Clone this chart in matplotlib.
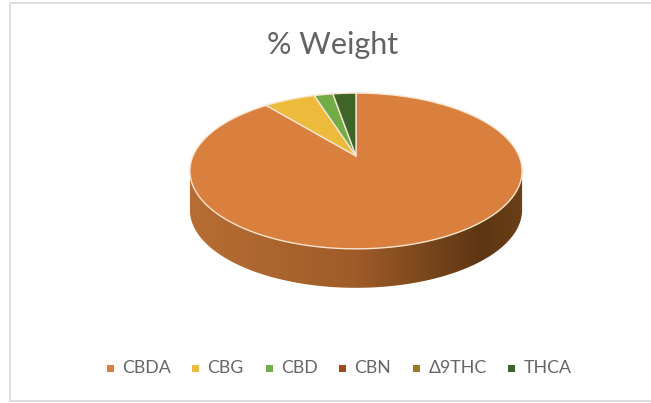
import numpy as np
import matplotlib
matplotlib.use("Agg")
import matplotlib.pyplot as plt
from matplotlib.patches import Polygon, Rectangle

plt.rcParams["font.family"] = ["Lato", "DejaVu Sans"]

W, H = 651, 403

categories = ["CBDA", "CBG", "CBD", "CBN", "Δ9THC", "THCA"]
weights = [89.1, 6.0, 2.2, 0.0, 0.0, 2.7]
colors = ["#D9803F", "#EDBB3C", "#70AD47", "#9E4A1C", "#997B22", "#3F6428"]
legend_x = [107, 192, 266, 339, 413, 508]

# tilted pie, circle goes through a simple perspective
APEX_X, APEX_Y = 356, 156
RX, RY, PERSP = 163, 75, 0.192
DEPTH = 39


def project(angle):
    # angle in radians clockwise from the top
    u, v = np.sin(angle), np.cos(angle)
    w = 1 + PERSP * v
    return APEX_X + RX * u / w, APEX_Y - RY * v / w


fig = plt.figure(figsize=(W / 100, H / 100), dpi=100)
ax = fig.add_axes([0, 0, 1, 1])
ax.set_xlim(0, W)
ax.set_ylim(H, 0)
ax.axis("off")

# the right edge of the frame is cropped off in the original
ax.add_patch(Rectangle((9.5, 3), W, 398, fc="white", ec="#DEDEDE", lw=1.4))

t = np.linspace(0, 2 * np.pi, 400)
ex, ey = project(t)

# side wall with the left to right shading
rim_t = np.linspace(np.pi * 0.56, np.pi * 1.44, 200)
rx_, ry_ = project(rim_t)
wall = Polygon(
    np.r_[np.c_[rx_, ry_], np.c_[rx_[::-1], ry_[::-1] + DEPTH]],
    fc="none", ec="none",
)
ax.add_patch(wall)
grad_stops = np.array([[0.72, 0.43, 0.2], [0.62, 0.36, 0.16], [0.36, 0.21, 0.07], [0.42, 0.25, 0.09]])
pos = np.linspace(0, 1, 300)
grad = np.stack([np.interp(pos, [0, 0.5, 0.88, 1], grad_stops[:, i]) for i in range(3)], axis=-1)[None, :, :]
im = ax.imshow(grad, extent=(ex.min(), ex.max(), ey.max() + DEPTH, ey.min()), aspect="auto", zorder=2)
im.set_clip_path(wall)
ax.set_xlim(0, W)
ax.set_ylim(H, 0)

# top face wedges, from the values
start = 0.0
total = sum(weights)
for value, color in zip(weights, colors):
    if value > 0:
        stop = start + value / total * 2 * np.pi
        a = np.linspace(start, stop, max(int(value * 8), 20))
        px, py = project(a)
        pts = np.r_[[[APEX_X, APEX_Y]], np.c_[px, py]]
        ax.add_patch(Polygon(pts, fc=color, ec="#F8E3CF", lw=1.0, zorder=3, joinstyle="round"))
        start = stop

ax.text(333, 45, "% Weight", ha="center", va="center", fontsize=22, color="#636363")

for name, color, x in zip(categories, colors, legend_x):
    ax.add_patch(Rectangle((x, 364.5), 7, 7, fc=color, ec="none", zorder=3))
    ax.text(x + 15.5, 368, name, ha="left", va="center", fontsize=12.8, color="#666666")

fig.savefig("out.png", dpi=100)
